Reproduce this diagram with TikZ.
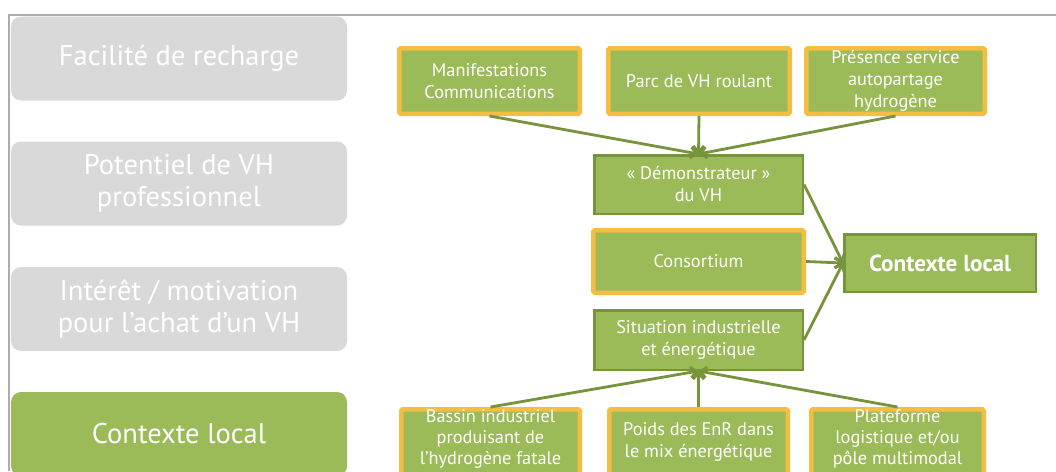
\documentclass[tikz,border=0pt]{standalone}
\usepackage{fontspec}
\setmainfont{PT Sans}
\usetikzlibrary{arrows.meta}
\definecolor{vgreen}{HTML}{9BBB59}
\definecolor{vdark}{HTML}{77933C}
\definecolor{vorange}{HTML}{F5BD41}
\definecolor{lgray}{HTML}{D9D9D9}
\definecolor{framec}{HTML}{ADADAD}
\begin{document}
\begin{tikzpicture}[x=1pt,y=-1pt,
  lbox/.style={fill=lgray, rounded corners=10pt, minimum width=336pt, minimum height=84pt,
    text=white, align=center, inner sep=0pt, font=\fontsize{28.5}{32}\selectfont},
  obox/.style={fill=vgreen, draw=vorange, line width=4.5pt, rounded corners=1.5pt,
    text=white, align=center, inner sep=0pt, font=\fontsize{18.3}{22}\selectfont},
  gbox/.style={fill=vgreen, draw=vdark, line width=2.5pt,
    text=white, align=center, inner sep=0pt, font=\fontsize{18.3}{22}\selectfont},
  btext/.style={text=white, align=center, inner sep=0pt, font=\fontsize{18.3}{21}\selectfont},
  conn/.style={draw=vdark, line width=2.8pt, -{Straight Barb[length=6pt,width=11pt]}}
]
\useasboundingbox (0,0) rectangle (1056,471);
\clip (0,0) rectangle (1056,471);
\fill[white] (0,0) rectangle (1056,471);
\draw[framec, line width=1.3pt] (9,471) -- (9,15) -- (1056,15);

% left column
\node[lbox] (l1) at (179,58.5) {Facilité de recharge};
\node[lbox] (l2) at (179,183.5) {Potentiel de VH\\professionnel};
\node[lbox] (l3) at (179,309) {Intérêt / motivation\\pour l’achat d’un VH};
\node[lbox, fill=vgreen] (l4) at (179,434) {Contexte local};

% right diagram
\node[obox, minimum width=180.5pt, minimum height=65.5pt] (man) at (489.5,81) {Manifestations\\Communications};
\node[obox, minimum width=181.5pt, minimum height=65.5pt] (parc) at (699,81) {Parc de VH roulant};
\node[obox, minimum width=178.5pt, minimum height=65.5pt] (pres) at (895.5,81) {Présence service\\autopartage\\hydrogène};

\node[gbox, minimum width=208.5pt, minimum height=58.5pt] (dem) at (698.5,184.5) {« Démonstrateur »\\du VH};
\node[obox, minimum width=210.5pt, minimum height=62.5pt] (cons) at (698.5,261.5) {Consortium};
\node[gbox, minimum width=208.5pt, minimum height=59.5pt] (sit) at (698.5,340) {Situation industrielle\\et énergétique};

\node[gbox, minimum width=191.5pt, minimum height=57.5pt, font=\bfseries\fontsize{23.2}{26}\selectfont] (ctx) at (940,263) {Contexte local};

\node[obox, minimum width=178.5pt, minimum height=65.5pt] (bas) at (490.5,442) {};
\node[obox, minimum width=178.5pt, minimum height=65.5pt] (poids) at (698.5,442) {Poids des EnR dans\\le mix énergétique};
\node[obox, minimum width=172.5pt, minimum height=65.5pt] (plat) at (897.5,442) {};
\node[btext] (bastxt) at (490.5,439) {Bassin industriel\\produisant de\\l’hydrogène fatale};
\node[btext] (plattxt) at (897.5,439) {Plateforme\\logistique et/ou\\pôle multimodal};

\draw[conn] (man.south) -- (dem.north);
\draw[conn] (parc.south) -- (dem.north);
\draw[conn] (pres.south) -- (dem.north);
\draw[conn] (dem.east) -- (ctx.west);
\draw[conn] (cons.east) -- (ctx.west);
\draw[conn] (sit.east) -- (ctx.west);
\draw[conn] (bas.north) -- (sit.south);
\draw[conn] (poids.north) -- (sit.south);
\draw[conn] (plat.north) -- (sit.south);
\end{tikzpicture}
\end{document}
